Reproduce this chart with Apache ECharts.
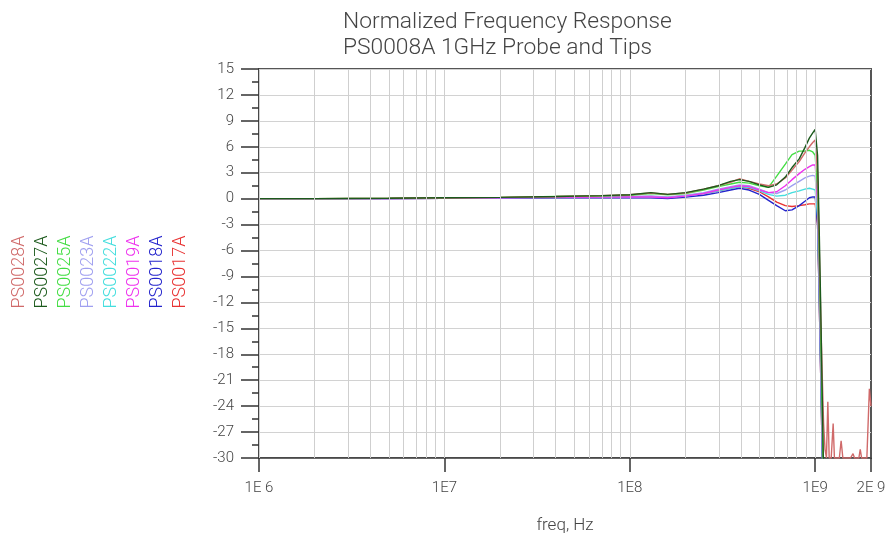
<!DOCTYPE html>
<html>
<head>
<meta charset="utf-8">
<script src="https://cdn.jsdelivr.net/npm/echarts@6/dist/echarts.min.js"></script>
<style>html,body{margin:0;padding:0;background:#fff}#c{width:890px;height:542px}</style>
</head>
<body>
<div id="c"></div>
<script>
// Frequencies (Hz) shared by all traces
const freqHz = [1e6, 2e6, 5e6, 1e7, 2e7, 4e7, 7e7, 1e8, 1.3e8, 1.6e8, 2e8, 2.5e8, 3e8, 3.5e8, 3.9e8, 4.4e8, 5e8, 5.6e8, 6.2e8, 6.9e8, 7.5e8, 8.2e8, 8.8e8, 9.3e8, 9.7e8, 1e9, 1.03e9, 1.05e9, 1.07e9, 1.09e9, 1.11e9, 1.13e9];

const seriesNames = ['PS0028A', 'PS0027A', 'PS0025A', 'PS0023A', 'PS0022A', 'PS0019A', 'PS0018A', 'PS0017A'];
const seriesColors = ['#d06a6a', '#1c5a1c', '#44dd44', '#a0a0f0', '#44dede', '#ee33ee', '#2424cc', '#e83232'];

const ps0028a = [0, 0, 0.05, 0.1, 0.15, 0.25, 0.35, 0.45, 0.65, 0.5, 0.65, 1.1, 1.5, 1.9, 2.3, 2.0, 1.7, 1.5, 1.7, 2.4, 3.3, 4.3, 5.3, 6.0, 6.5, 6.8, 3, -5, -13, -20, -26, -29];
const ps0027a = [0, 0, 0.05, 0.1, 0.15, 0.25, 0.35, 0.45, 0.7, 0.5, 0.7, 1.1, 1.5, 2.0, 2.2, 2.0, 1.6, 1.3, 1.6, 2.5, 3.6, 4.6, 5.9, 7.0, 7.6, 8.0, 5, -3, -12, -22, -32, -40];
const ps0025a = [0, 0, 0.05, 0.1, 0.15, 0.25, 0.3, 0.4, 0.6, 0.45, 0.6, 1.0, 1.4, 1.7, 1.9, 1.8, 1.5, 1.3, 2.6, 4.0, 5.1, 5.5, 5.5, 5.6, 5.4, 5.0, 1, -7, -16, -25, -34, -40];
const ps0023a = [0, 0, 0, 0.05, 0.1, 0.15, 0.2, 0.25, 0.3, 0.2, 0.4, 0.7, 1.1, 1.4, 1.6, 1.5, 1.1, 0.7, 0.6, 1.0, 1.5, 2.0, 2.4, 2.6, 2.7, 2.6, -1, -9, -18, -27, -36, -40];
const ps0022a = [0, 0, 0, 0.05, 0.1, 0.15, 0.2, 0.2, 0.2, 0.15, 0.3, 0.6, 0.9, 1.2, 1.4, 1.3, 0.9, 0.5, 0.3, 0.4, 0.7, 0.9, 1.1, 1.2, 1.1, 1.0, -2, -10, -19, -28, -37, -40];
const ps0019a = [0, 0, 0, 0.05, 0.1, 0.15, 0.2, 0.2, 0.2, 0.1, 0.3, 0.6, 1.0, 1.3, 1.5, 1.4, 1.0, 0.7, 0.8, 1.5, 2.2, 2.9, 3.4, 3.7, 3.9, 3.9, 0, -8, -17, -26, -35, -40];
const ps0018a = [0, 0, 0, 0.05, 0.05, 0.1, 0.1, 0.1, 0.1, 0.0, 0.2, 0.4, 0.7, 1.0, 1.2, 1.0, 0.5, -0.2, -0.8, -1.4, -1.3, -0.8, -0.3, 0.1, 0.2, 0.2, -3, -11, -20, -29, -38, -40];
const ps0017a = [0, 0, 0, 0.05, 0.1, 0.15, 0.2, 0.2, 0.25, 0.15, 0.35, 0.6, 0.9, 1.2, 1.4, 1.2, 0.8, 0.2, -0.4, -0.8, -0.9, -0.8, -0.7, -0.6, -0.6, -0.6, -3, -11, -20, -29, -38, -40];

// PS0028A noise floor tail above the cutoff
const ps0028aTailFreq = [1.15e9, 1.17e9, 1.19e9, 1.22e9, 1.25e9, 1.27e9, 1.35e9, 1.38e9, 1.41e9, 1.55e9, 1.6e9, 1.63e9, 1.72e9, 1.75e9, 1.78e9, 1.9e9, 1.93e9, 1.96e9, 2e9];
const ps0028aTailDb = [-30, -23.5, -30, -30, -26, -30, -30, -28, -30, -30, -29.5, -30, -30, -29, -30, -30, -30, -22, -24];

// Axis ticks
const xTickFreq = [1e6, 1e7, 1e8, 1e9, 2e9];
const xTickLabels = ['1E 6', '1E7', '1E8', '1E9', '2E 9'];
const gridMult = [2, 3, 4, 5, 6, 7, 8, 9];
const gridDecades = [1e6, 1e7, 1e8];
const yMin = -30, yMax = 15, yStep = 3;

const titleLines = ['Normalized Frequency Response', 'PS0008A 1GHz Probe and Tips'];
const xAxisName = 'freq, Hz';

const valuesByName = {
  'PS0028A': ps0028a, 'PS0027A': ps0027a, 'PS0025A': ps0025a, 'PS0023A': ps0023a,
  'PS0022A': ps0022a, 'PS0019A': ps0019a, 'PS0018A': ps0018a, 'PS0017A': ps0017a
};

const lg = v => Math.log10(v);
const xTickPos = xTickFreq.map(lg);

function buildData(name) {
  const vals = valuesByName[name];
  const d = freqHz.map((f, i) => [lg(f), vals[i]]);
  if (name === 'PS0028A') {
    ps0028aTailFreq.forEach((f, i) => d.push([lg(f), ps0028aTailDb[i]]));
  }
  return d;
}

// vertical grid lines
const vLines = [];
gridDecades.forEach(dec => {
  vLines.push({ xAxis: lg(dec) });
  gridMult.forEach(m => vLines.push({ xAxis: lg(m * dec) }));
});
vLines.push({ xAxis: lg(1e9) });

const drawOrder = ['PS0017A', 'PS0018A', 'PS0022A', 'PS0023A', 'PS0019A', 'PS0025A', 'PS0028A', 'PS0027A'];

const series = [{
  type: 'line', data: [], silent: true, z: 1,
  markLine: {
    silent: true, symbol: 'none', animation: false,
    label: { show: false },
    lineStyle: { color: '#cfcfcf', type: 'solid', width: 1 },
    data: vLines
  }
}];
drawOrder.forEach(name => {
  const idx = seriesNames.indexOf(name);
  series.push({
    name: name, type: 'line', data: buildData(name), showSymbol: false, symbol: 'none',
    lineStyle: { color: seriesColors[idx], width: 1.4 }, itemStyle: { color: seriesColors[idx] },
    z: 3, clip: true, animation: false
  });
});

const legendX0 = 19, legendDx = 23, legendY = 272;
const graphics = seriesNames.map((n, i) => ({
  type: 'text', x: legendX0 + i * legendDx, y: legendY, rotation: Math.PI / 2,
  style: { text: n, fill: seriesColors[i], font: '300 18px Roboto', align: 'center', verticalAlign: 'middle' }
}));

const chart = echarts.init(document.getElementById('c'), null, { renderer: 'canvas' });
chart.setOption({
  animation: false,
  backgroundColor: '#fff',
  title: {
    text: titleLines.join('\n'), left: 343, top: 9, padding: 0, textAlign: 'left',
    textStyle: { fontFamily: 'Roboto', fontWeight: 300, fontSize: 22.8, lineHeight: 26, color: '#444' }
  },
  grid: { left: 259, top: 69, right: 19, bottom: 84, show: true, borderColor: '#555', borderWidth: 2, backgroundColor: 'transparent' },
  xAxis: {
    type: 'value', min: 6, max: lg(2e9),
    name: xAxisName, nameLocation: 'middle', nameGap: 59,
    nameTextStyle: { fontFamily: 'Roboto', fontWeight: 300, fontSize: 17, color: '#444' },
    axisLine: { show: true, onZero: false, lineStyle: { color: '#444', width: 1.5 } },
    axisTick: { show: true, length: 14, customValues: xTickPos, lineStyle: { color: '#333', width: 1.5 } },
    axisLabel: {
      customValues: xTickPos, margin: 23, fontFamily: 'Roboto', fontWeight: 300, fontSize: 15, color: '#444',
      formatter: v => { let k = 0, best = 1e9; xTickPos.forEach((p, i) => { if (Math.abs(p - v) < best) { best = Math.abs(p - v); k = i; } }); return xTickLabels[k]; },
      showMinLabel: true, showMaxLabel: true
    },
    splitLine: { show: false }
  },
  yAxis: {
    type: 'value', min: yMin, max: yMax, interval: yStep,
    axisLine: { show: true, onZero: false, lineStyle: { color: '#444', width: 1.5 } },
    axisTick: { show: true, length: 18, lineStyle: { color: '#333', width: 1.5 } },
    minorTick: { show: true, splitNumber: 2, length: 7, lineStyle: { color: '#333', width: 1.5 } },
    axisLabel: { margin: 25, align: 'right', fontFamily: 'Roboto', fontWeight: 300, fontSize: 15, color: '#444' },
    splitLine: { show: true, lineStyle: { color: '#d2d2d2', width: 1 } }
  },
  graphic: graphics,
  series: series
});
</script>
</body>
</html>
